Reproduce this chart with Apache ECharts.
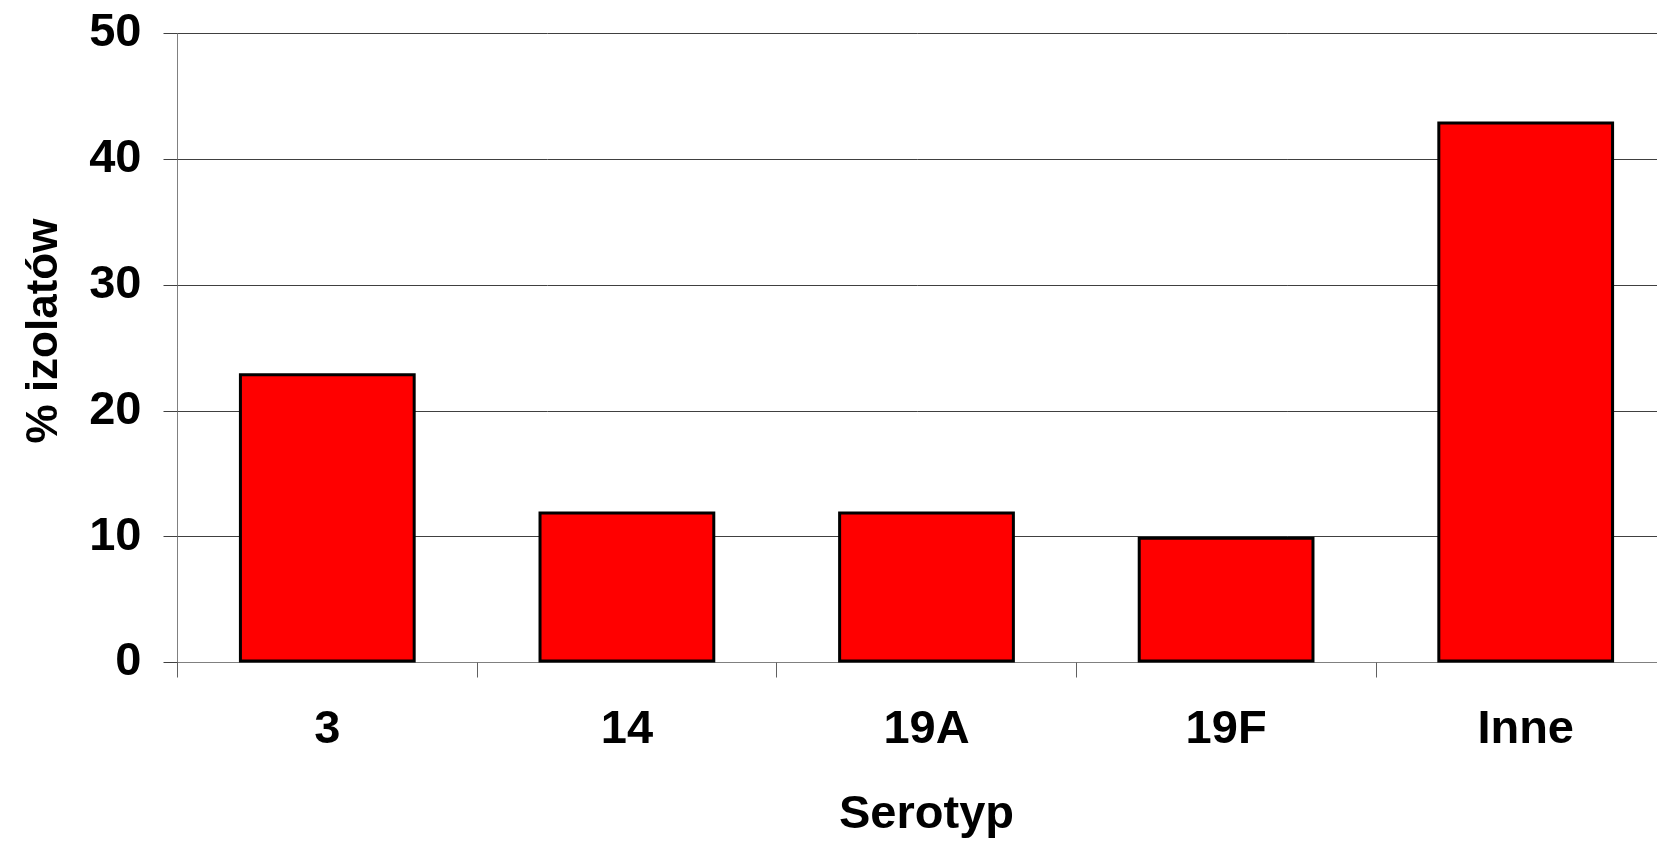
<!DOCTYPE html>
<html>
<head>
<meta charset="utf-8">
<script src="https://cdn.jsdelivr.net/npm/echarts@6/dist/echarts.min.js"></script>
<style>
html,body{margin:0;padding:0;background:#fff;}
#c{width:1657px;height:841px;}
</style>
</head>
<body>
<div id="c"></div>
<script>
const categories = ['3', '14', '19A', '19F', 'Inne'];
const values = [23, 12, 12, 10, 43];
const yTicks = [0, 10, 20, 30, 40, 50];
const xTitle = 'Serotyp';
const yTitle = '% izolatów';

const FONT = '"Liberation Sans", Arial, sans-serif';
const chart = echarts.init(document.getElementById('c'), null, {renderer: 'canvas'});
chart.setOption({
  animation: false,
  backgroundColor: '#ffffff',
  grid: {left: 177.5, top: 33.5, bottom: 178.5, right: -18.5, containLabel: false, outerBoundsMode: 'none'},
  xAxis: {
    type: 'category',
    data: categories,
    boundaryGap: true,
    axisLine: {lineStyle: {color: '#808080', width: 1}},
    axisTick: {show: true, length: 15, alignWithLabel: false, lineStyle: {color: '#606060', width: 1}},
    axisLabel: {color: '#000', fontFamily: FONT, fontWeight: 'bold', fontSize: 47, margin: 44},
    name: xTitle,
    nameLocation: 'middle',
    nameGap: 129,
    nameTextStyle: {color: '#000', fontFamily: FONT, fontWeight: 'bold', fontSize: 47}
  },
  yAxis: {
    type: 'value',
    min: yTicks[0],
    max: yTicks[yTicks.length - 1],
    interval: 10,
    axisLine: {show: true, lineStyle: {color: '#808080', width: 1}},
    axisTick: {show: true, length: 14, lineStyle: {color: '#404040', width: 1}},
    splitLine: {show: true, lineStyle: {color: '#404040', width: 1}},
    axisLabel: {color: '#000', fontFamily: FONT, fontWeight: 'bold', fontSize: 47, margin: 36},
    name: yTitle,
    nameLocation: 'middle',
    nameGap: 111,
    nameRotate: 90,
    nameTextStyle: {color: '#000', fontFamily: FONT, fontWeight: 'bold', fontSize: 44, padding: [0, 0, 0, 34]}
  },
  series: [{
    type: 'bar',
    data: values,
    barCategoryGap: '41%',
    itemStyle: {color: '#ff0000', borderColor: '#000000', borderWidth: 3}
  }]
});
</script>
</body>
</html>
